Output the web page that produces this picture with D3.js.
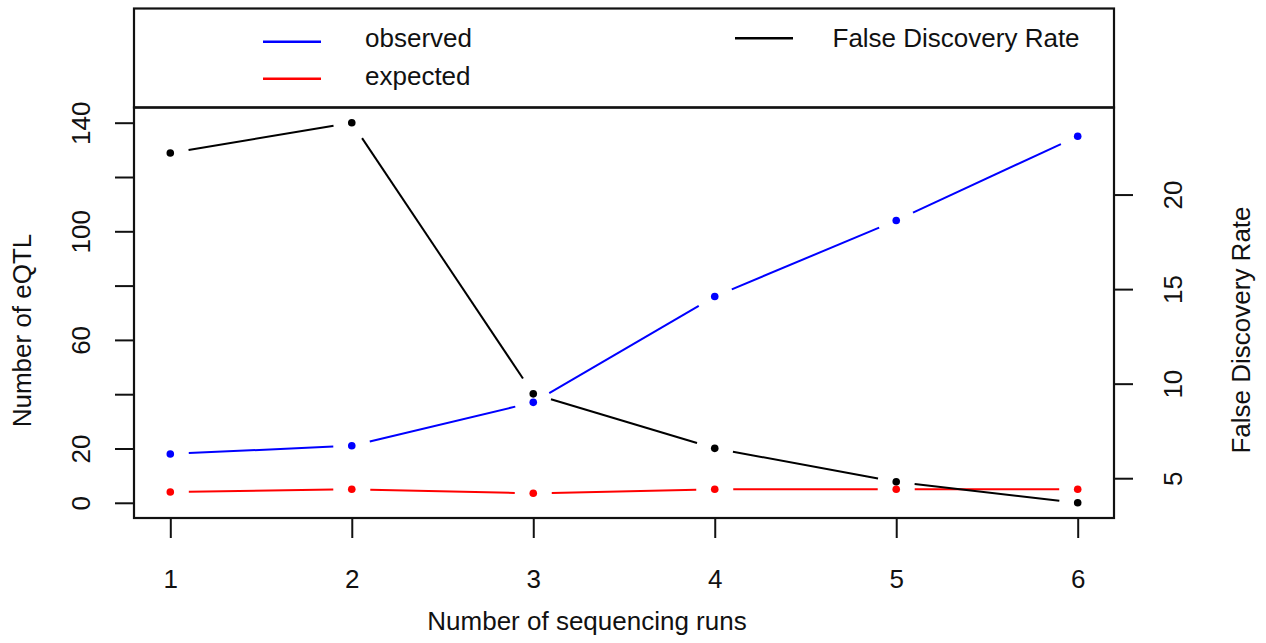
<!DOCTYPE html>
<html>
<head>
<meta charset="utf-8">
<script src="https://cdn.jsdelivr.net/npm/d3@7"></script>
<style>
  html, body { margin: 0; padding: 0; background: #fff; }
  svg { display: block; }
  text { font-family: "Liberation Sans", Arial, Helvetica, sans-serif; fill: #111; }
</style>
</head>
<body>
<svg id="chart" width="1266" height="643"></svg>
<script>
// Number of sequencing runs
const runs = [1, 2, 3, 4, 5, 6];
// eQTL counts (left axis)
const observed = [18, 21, 37, 76, 104, 135];
const expected = [4, 5, 3.5, 5, 5, 5];
// False discovery rate, percent (right axis)
const fdr = [22.2, 23.8, 9.46, 6.58, 4.81, 3.70];

const leftTicks = [0, 20, 40, 60, 80, 100, 120, 140];
const leftLabels = [0, 20, 60, 100, 140];
const rightTicks = [5, 10, 15, 20];
const xTicks = [1, 2, 3, 4, 5, 6];
const leftLimits = [0, 140];

const svg = d3.select("#chart");
const box = { left: 134, right: 1114, top: 107.5, bottom: 518 };
const FONT = 26;

// R-style 4% padding around a range
const pad = ([a, b]) => { const e = (b - a) * 0.04; return [a - e, b + e]; };

const x = d3.scaleLinear().domain(pad(d3.extent(runs))).range([box.left, box.right]);
const yL = d3.scaleLinear().domain(pad(leftLimits)).range([box.bottom, box.top]);
const yR = d3.scaleLinear().domain(pad(d3.extent(fdr))).range([box.bottom, box.top]);

// Legend box above the plot
svg.append("rect")
  .attr("x", box.left).attr("y", 8.5)
  .attr("width", box.right - box.left).attr("height", box.top - 8.5)
  .attr("fill", "none").attr("stroke", "#111").attr("stroke-width", 2.2);

// Plot box
svg.append("rect")
  .attr("x", box.left).attr("y", box.top)
  .attr("width", box.right - box.left).attr("height", box.bottom - box.top)
  .attr("fill", "none").attr("stroke", "#111").attr("stroke-width", 2.2);

// Axes
function styleAxis(g) {
  g.select(".domain").remove();
  g.selectAll(".tick line").attr("stroke", "#111").attr("stroke-width", 2);
  g.selectAll(".tick text").attr("font-size", FONT).attr("fill", "#111")
    .style("font-family", '"Liberation Sans", Arial, Helvetica, sans-serif');
}

const gx = svg.append("g")
  .attr("transform", `translate(0,${box.bottom})`)
  .call(d3.axisBottom(x).tickValues(xTicks).tickSize(20).tickSizeOuter(0).tickFormat(d3.format("d")));
styleAxis(gx);
gx.selectAll(".tick text").attr("y", 70).attr("dy", null);

const gl = svg.append("g")
  .attr("transform", `translate(${box.left},0)`)
  .call(d3.axisLeft(yL).tickValues(leftTicks).tickSize(19).tickSizeOuter(0)
    .tickFormat(d => leftLabels.includes(d) ? String(d) : ""));
styleAxis(gl);
gl.selectAll(".tick text")
  .attr("x", null).attr("dy", null)
  .attr("text-anchor", "middle")
  .attr("transform", "translate(-44,0) rotate(-90)");

const gr = svg.append("g")
  .attr("transform", `translate(${box.right},0)`)
  .call(d3.axisRight(yR).tickValues(rightTicks).tickSize(19).tickSizeOuter(0).tickFormat(d3.format("d")));
styleAxis(gr);
gr.selectAll(".tick text")
  .attr("x", null).attr("dy", null)
  .attr("text-anchor", "middle")
  .attr("transform", "translate(68,0) rotate(-90)");

// Axis titles
svg.append("text")
  .attr("x", 587).attr("y", 630)
  .attr("text-anchor", "middle").attr("font-size", FONT)
  .text("Number of sequencing runs");

svg.append("text")
  .attr("transform", "translate(31,330.5) rotate(-90)")
  .attr("text-anchor", "middle").attr("font-size", FONT)
  .text("Number of eQTL");

svg.append("text")
  .attr("transform", "translate(1250,330) rotate(-90)")
  .attr("text-anchor", "middle").attr("font-size", FONT)
  .text("False Discovery Rate");

// "Both" style series: dots joined by segments that stop short of each dot
const GAP = 18.5;
function drawSeries(values, yScale, color) {
  const pts = runs.map((r, i) => [x(r), yScale(values[i])]);
  const segs = d3.pairs(pts).map(([a, b]) => {
    const dx = b[0] - a[0], dy = b[1] - a[1];
    const len = Math.hypot(dx, dy);
    const ux = dx / len, uy = dy / len;
    return [a[0] + ux * GAP, a[1] + uy * GAP, b[0] - ux * GAP, b[1] - uy * GAP, len];
  }).filter(s => s[4] > 2 * GAP);
  const g = svg.append("g");
  g.selectAll("line").data(segs).join("line")
    .attr("x1", s => s[0]).attr("y1", s => s[1])
    .attr("x2", s => s[2]).attr("y2", s => s[3])
    .attr("stroke", color).attr("stroke-width", 2);
  g.selectAll("circle").data(pts).join("circle")
    .attr("cx", p => p[0]).attr("cy", p => p[1])
    .attr("r", 3.8).attr("fill", color);
}

drawSeries(observed, yL, "#0000ff");
drawSeries(expected, yL, "#ff0000");
drawSeries(fdr, yR, "#000000");

// Legend entries
const legendItems = [
  { label: "observed", color: "#0000ff", x1: 263, x2: 321, ly: 41.7, tx: 365, ty: 47.2 },
  { label: "expected", color: "#ff0000", x1: 263, x2: 321, ly: 78.7, tx: 365, ty: 84.5 },
  { label: "False Discovery Rate", color: "#000000", x1: 735, x2: 793, ly: 38.3, tx: 832.5, ty: 46.8 }
];
const lg = svg.append("g");
lg.selectAll("line").data(legendItems).join("line")
  .attr("x1", d => d.x1).attr("x2", d => d.x2)
  .attr("y1", d => d.ly).attr("y2", d => d.ly)
  .attr("stroke", d => d.color).attr("stroke-width", 2.4);
lg.selectAll("text").data(legendItems).join("text")
  .attr("x", d => d.tx).attr("y", d => d.ty)
  .attr("font-size", FONT)
  .text(d => d.label);
</script>
</body>
</html>
